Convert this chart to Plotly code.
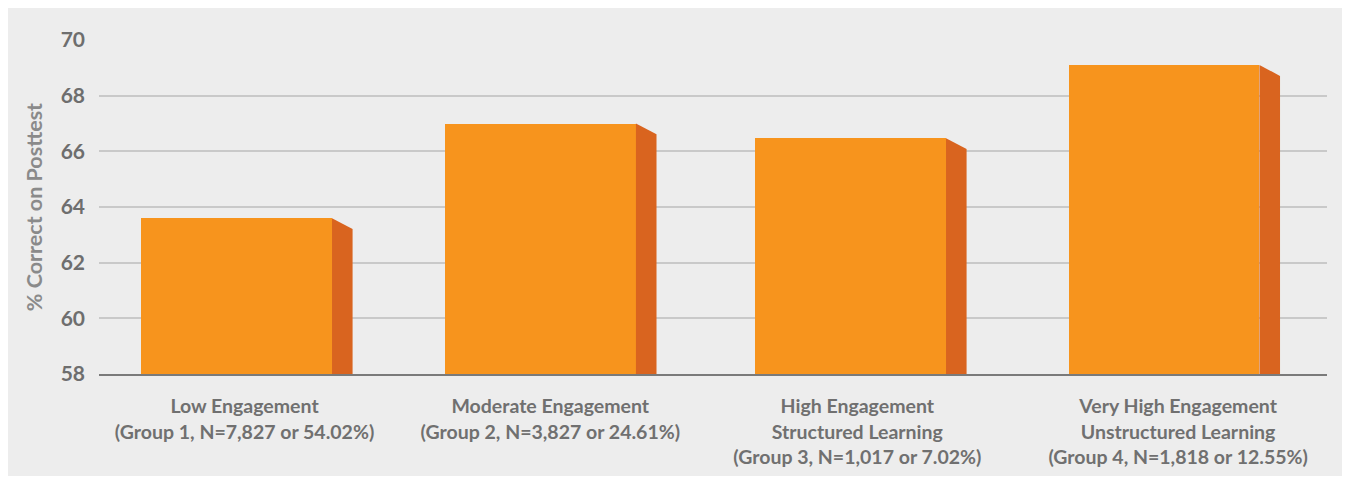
import plotly.graph_objects as go

categories = [
    "Low Engagement<br>(Group 1, N=7,827 or 54.02%)",
    "Moderate Engagement<br>(Group 2, N=3,827 or 24.61%)",
    "High Engagement<br>Structured Learning<br>(Group 3, N=1,017 or 7.02%)",
    "Very High Engagement<br>Unstructured Learning<br>(Group 4, N=1,818 or 12.55%)",
]
values = [63.6, 67.0, 66.47, 69.1]
y_ticks = [58, 60, 62, 64, 66, 68, 70]

FRONT = "#F7941D"
SIDE = "#D9641F"
BASE = 58
front_left = [-0.363, -0.373, -0.363, -0.342]
front_w = 0.622
side_w = 0.067
side_drop = 0.39
label_shift = [-0.026, -0.03, -0.03, 0.015]

xs = list(range(len(categories)))

fig = go.Figure()
fig.add_trace(go.Bar(
    x=xs, y=values, width=front_w, offset=front_left,
    marker=dict(color=FRONT, line=dict(width=0)),
    hoverinfo="skip", showlegend=False,
))
for c, v, fl in zip(xs, values, front_left):
    x0 = c + fl + front_w
    x1 = x0 + side_w
    fig.add_trace(go.Scatter(
        x=[x0, x0, x1, x1, x0], y=[BASE, v, v - side_drop, BASE, BASE],
        mode="lines", fill="toself", fillcolor=SIDE,
        line=dict(width=0, color=SIDE), hoverinfo="skip", showlegend=False,
    ))

# page body has an 8px margin: the figure sits at (8, 8) in the window
OFF = 8
W, H = 1350 - OFF, 483 - OFF
ml, mr, mt, mb = 99 - OFF, 23, 40 - OFF, 109
pw, ph = W - ml - mr, H - mt - mb

fig.add_shape(
    type="rect", xref="paper", yref="paper", layer="below",
    x0=(0 - ml) / pw, x1=(W - ml) / pw,
    y0=(H - mb - (476 - OFF)) / ph, y1=(H - mb) / ph + mt / ph,
    fillcolor="#EDEDED", line=dict(width=0),
)

fig.update_layout(
    width=W, height=H,
    margin=dict(l=ml, r=mr, t=mt, b=mb, autoexpand=False),
    paper_bgcolor="white", plot_bgcolor="rgba(0,0,0,0)",
    bargap=0,
    font=dict(family="Lato", color="#707070", size=20, weight="bold"),
    xaxis=dict(
        range=[-0.5, 3.5],
        tickvals=[c + s for c, s in zip(xs, label_shift)], ticktext=categories,
        showgrid=False, zeroline=False,
        showline=True, linecolor="#7A7A7A", linewidth=2,
        ticks="", ticklabelstandoff=14,
        tickfont=dict(size=19.5, family="Lato", color="#707070", weight="bold"),
        fixedrange=True,
    ),
    yaxis=dict(
        range=[58, 70], tickvals=y_ticks,
        showgrid=True, gridcolor="#C9C9C9", gridwidth=2,
        zeroline=False, showline=False, ticks="", ticklabelstandoff=13,
        tickfont=dict(size=21, family="Lato", color="#6E6E6E", weight="bold"),
        title=dict(text="% Correct on Posttest", standoff=12,
                   font=dict(size=21.5, family="Lato", color="#8A8A8A", weight="bold")),
        fixedrange=True,
    ),
)

fig.write_html("out.html")
